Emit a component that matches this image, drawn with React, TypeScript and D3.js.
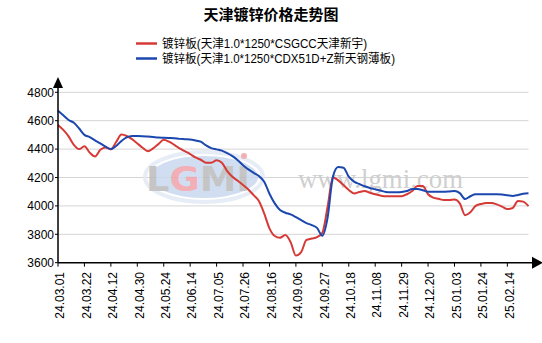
import React from 'react';
import * as d3 from 'd3';

const title = '天津镀锌价格走势图';
const seriesNames = [
  '镀锌板(天津1.0*1250*CSGCC天津新宇)',
  '镀锌板(天津1.0*1250*CDX51D+Z新天钢薄板)',
];
const seriesColors = ['#d63a36', '#1b47ae'];

const dateLabels = [
  '24.03.01', '24.03.22', '24.04.12', '24.04.30', '24.05.24', '24.06.14',
  '24.07.05', '24.07.26', '24.08.16', '24.09.06', '24.09.27', '24.10.18',
  '24.11.08', '24.11.29', '24.12.20', '25.01.03', '25.01.24', '25.02.14',
];
const samplesPerLabel = 5;

const redValues = [
  4570, 4535, 4490, 4430, 4400, 4420, 4375, 4348, 4395, 4412,
  4398, 4450, 4502, 4492, 4470, 4440, 4410, 4385, 4405, 4435,
  4465, 4452, 4430, 4405, 4385, 4365, 4341, 4325, 4304, 4304,
  4322, 4304, 4245, 4205, 4177, 4147, 4116, 4076, 4034, 3947,
  3842, 3788, 3776, 3795, 3745, 3650, 3675, 3760, 3770, 3780,
  3810, 3994, 4200, 4180, 4147, 4112, 4088, 4098, 4105, 4093,
  4082, 4073, 4068, 4068, 4068, 4068, 4082, 4105, 4140, 4140,
  4082, 4058, 4050, 4041, 4041, 4045, 4018, 3935, 3955, 4000,
  4013, 4020, 4020, 4011, 3995, 3978, 3985, 4035, 4030, 3998,
];
const blueValues = [
  4670, 4638, 4605, 4585, 4545, 4500, 4485, 4462, 4440, 4417,
  4400, 4422, 4457, 4482, 4492, 4492, 4491, 4488, 4485, 4482,
  4480, 4478, 4476, 4472, 4470, 4468, 4461, 4452, 4426, 4407,
  4398, 4389, 4372, 4351, 4322, 4287, 4257, 4233, 4210, 4170,
  4086, 4018, 3971, 3952, 3940, 3921, 3900, 3879, 3865, 3845,
  3790, 3918, 4206, 4274, 4269, 4206, 4171, 4154, 4138, 4126,
  4117, 4108, 4098, 4096, 4096, 4098, 4105, 4119, 4119, 4110,
  4100, 4100, 4100, 4100, 4102, 4105, 4090, 4048, 4068, 4082,
  4082, 4082, 4082, 4082, 4080, 4075, 4070, 4077, 4086, 4089,
];
const yTicks = [3600, 3800, 4000, 4200, 4400, 4600, 4800];

const FONT = "'Liberation Sans', Arial, 'Noto Sans CJK SC', sans-serif";
const legendTextWidths = [205, 233];

export default function App() {
  const W = 542;
  const H = 343;
  const left = 58;
  const right = 528.5;
  const bottom = 262.7;
  const top = 92.3;
  const x = d3.scaleLinear().domain([0, redValues.length - 1]).range([left, right]);
  const y = d3.scaleLinear().domain([3600, 4800]).range([bottom, top]);
  const line = d3
    .line<number>()
    .x((_, i) => x(i))
    .y((d) => y(d))
    .curve(d3.curveMonotoneX);

  const series = [redValues, blueValues];

  return (
    <svg
      width={W}
      height={H}
      style={{ position: 'absolute', left: 0, top: 0, background: '#fff' }}
      fontFamily={FONT}
    >
      <rect x={0} y={0} width={W} height={H} fill="#fff" />
      <text
        x={271}
        y={20}
        textAnchor="middle"
        fontSize={15}
        fontWeight="bold"
        fontFamily="'Noto Sans CJK SC', sans-serif"
        fill="#000"
      >
        {title}
      </text>

      {seriesNames.map((name, i) => (
        <g key={name} transform={`translate(0, ${43.5 + i * 15})`}>
          <line x1={136} x2={157} y1={0} y2={0} stroke={seriesColors[i]} strokeWidth={2.5} />
          <text
            x={162}
            y={0}
            dy="0.35em"
            fontSize={12}
            fill="#000"
            textLength={legendTextWidths[i]}
            lengthAdjust="spacingAndGlyphs"
          >
            {name}
          </text>
        </g>
      ))}

      {/* grid */}
      {yTicks.filter((t) => t > 3600).map((t) => (
        <line key={t} x1={left} x2={right} y1={y(t)} y2={y(t)} stroke="#d4d4d4" strokeWidth={1} />
      ))}

      {/* watermark logo */}
      <g opacity={0.85}>
        <ellipse cx={204} cy={177} rx={59} ry={25} fill="none" stroke="#e3eaf5" strokeWidth={4} />
        <ellipse cx={204} cy={177} rx={54} ry={21} fill="#c9d9ef" />
        <text x={146} y={191} fontSize={33} fontWeight="bold" fontFamily="'DejaVu Sans', sans-serif" textLength={104} lengthAdjust="spacingAndGlyphs">
          <tspan fill="#bcbcbc">L</tspan>
          <tspan fill="#f2a2aa">G</tspan>
          <tspan fill="#bcbcbc">MI</tspan>
        </text>
        <circle cx={244} cy={156} r={3} fill="#f2a2aa" />
      </g>
      <text
        x={298}
        y={188}
        fontSize={27}
        fontFamily="'Liberation Serif', 'DejaVu Serif', serif"
        fill="#cfcfcf"
        textLength={165}
        lengthAdjust="spacingAndGlyphs"
      >
        www.lgmi.com
      </text>

      {/* lines */}
      {series.map((s, i) => (
        <path key={i} d={line(s) || ''} fill="none" stroke={seriesColors[i]} strokeWidth={2} strokeLinejoin="round" />
      ))}

      {/* axes */}
      <line x1={left} x2={left} y1={84} y2={bottom} stroke="#000" strokeWidth={1.5} />
      <path d={`M${left},77 L${left - 5},88 L${left + 5},88 Z`} fill="#000" />
      <line x1={left} x2={535} y1={bottom} y2={bottom} stroke="#000" strokeWidth={1.5} />
      <path d={`M543,${bottom} L532,${bottom - 6} L532,${bottom + 6} Z`} fill="#000" />

      {yTicks.map((t) => (
        <g key={t}>
          <line x1={left - 3} x2={left} y1={y(t)} y2={y(t)} stroke="#000" />
          <text x={54} y={y(t)} dy="0.35em" textAnchor="end" fontSize={12} fill="#000">
            {t}
          </text>
        </g>
      ))}

      {dateLabels.map((d, i) => {
        const xp = x(i * samplesPerLabel);
        return (
          <g key={d}>
            <line x1={xp} x2={xp} y1={bottom} y2={bottom + 4} stroke="#000" />
            <text
              transform={`translate(${xp + 2}, 272) rotate(-90)`}
              dy="0.35em"
              textAnchor="end"
              fontSize={12}
              fill="#000"
            >
              {d}
            </text>
          </g>
        );
      })}
    </svg>
  );
}
